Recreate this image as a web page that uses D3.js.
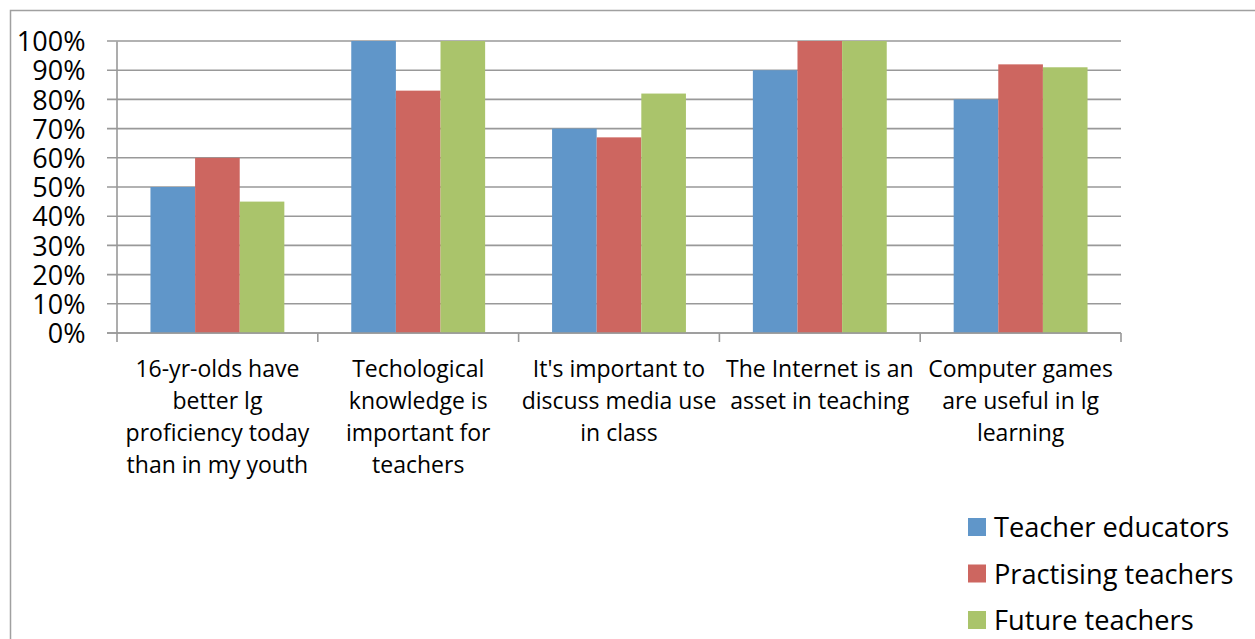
<!DOCTYPE html>
<html><head><meta charset="utf-8">
<script src="https://cdn.jsdelivr.net/npm/d3@7"></script>
<style>body{margin:0;background:#fff}svg{display:block}text{font-family:"Open Sans",Lato,sans-serif;fill:#000}</style>
</head><body><svg id="c" width="1255" height="639"></svg>
<script>
const categories = [
  ["16-yr-olds have","better lg","proficiency today","than in my youth"],
  ["Techological","knowledge is","important for","teachers"],
  ["It's important to","discuss media use","in class"],
  ["The Internet is an","asset in teaching"],
  ["Computer games","are useful in lg","learning"]
];
const seriesNames = ["Teacher educators","Practising teachers","Future teachers"];
const teacherEducators = [50,100,70,90,80];
const practisingTeachers = [60,83,67,100,92];
const futureTeachers = [45,100,82,100,91];
const seriesValues = [teacherEducators, practisingTeachers, futureTeachers];
const colors = ["#6096C9","#CD6660","#AAC46B"];
const yTicks = [0,10,20,30,40,50,60,70,80,90,100];

const svg = d3.select("#c");
svg.append("rect").attr("x",10.5).attr("y",10.5).attr("width",1260).attr("height",640)
  .attr("fill","none").attr("stroke","#a0a0a0").attr("stroke-width",1.5);

const x0 = d3.scaleBand().domain(d3.range(categories.length)).range([117,1121]);
const x1 = d3.scaleBand().domain(d3.range(seriesNames.length)).range([0,x0.bandwidth()]).paddingInner(0).paddingOuter(0.75);
const y = d3.scaleLinear().domain([0,100]).range([333,41]);

svg.append("g").selectAll("line").data(yTicks).join("line")
  .attr("x1",107).attr("x2",1121).attr("y1",d=>y(d)).attr("y2",d=>y(d))
  .attr("stroke","#999").attr("stroke-width",1.6);

const yAxis = d3.axisLeft(y).tickValues(yTicks).tickFormat(d=>d+"%").tickSize(0).tickPadding(31);
const gy = svg.append("g").attr("transform","translate(116.5,0)").call(yAxis);
gy.select(".domain").attr("stroke","#999").attr("stroke-width",1.6);
gy.selectAll("text").attr("font-size",27).attr("dy","0.36em").style("font-family","'Open Sans',Lato,sans-serif");

const groups = svg.append("g").selectAll("g").data(categories.map((c,i)=>i)).join("g")
  .attr("transform",i=>`translate(${x0(i)},0)`);
groups.selectAll("rect").data(i=>seriesValues.map((s,k)=>({k,v:s[i]}))).join("rect")
  .attr("x",d=>x1(d.k)).attr("width",x1.bandwidth())
  .attr("y",d=>y(d.v)).attr("height",d=>y(0)-y(d.v)).attr("fill",d=>colors[d.k]);

svg.append("line").attr("x1",107).attr("x2",1121).attr("y1",y(0)).attr("y2",y(0)).attr("stroke","#999").attr("stroke-width",1.6);
const tickXs = d3.range(categories.length+1).map(i=> i<categories.length ? x0(i) : x0(categories.length-1)+x0.bandwidth());
svg.append("g").selectAll("line").data(tickXs).join("line")
  .attr("x1",d=>d).attr("x2",d=>d).attr("y1",y(0)).attr("y2",y(0)+9).attr("stroke","#999").attr("stroke-width",1.6);

const lab = svg.append("g").selectAll("text").data(categories.map((c,i)=>({c,i}))).join("text")
  .attr("text-anchor","middle").attr("font-size",23)
  .attr("transform",d=>`translate(${x0(d.i)+x0.bandwidth()/2},377)`);
lab.selectAll("tspan").data(d=>d.c).join("tspan").attr("x",0).attr("y",(d,j)=>j*32).text(d=>d);

const lg = svg.append("g").selectAll("g").data(seriesNames.map((n,k)=>({n,k}))).join("g")
  .attr("transform",d=>`translate(968,${518+d.k*46.5})`);
lg.append("rect").attr("width",18).attr("height",18).attr("fill",d=>colors[d.k]);
lg.append("text").attr("x",26).attr("y",19).attr("font-size",27.2).text(d=>d.n);
</script></body></html>
